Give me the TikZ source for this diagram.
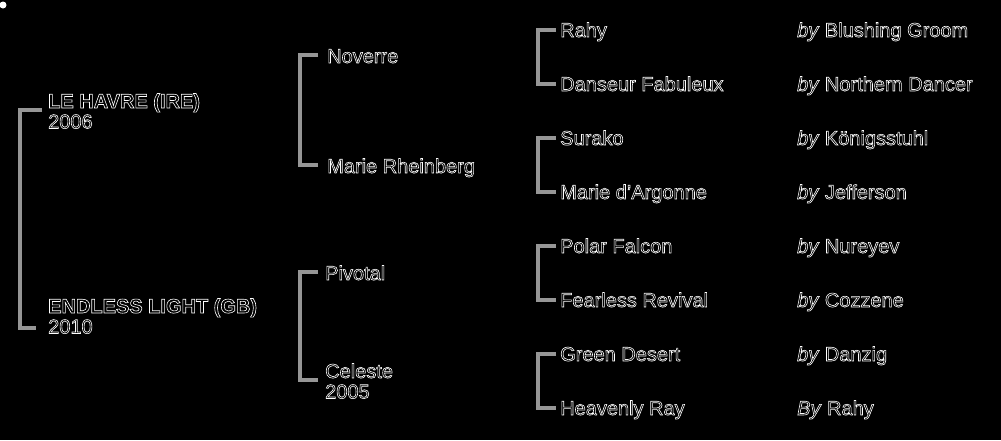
\documentclass[tikz,border=0pt]{standalone}
\usepackage{fontspec}
\setmainfont{Liberation Sans}
\newcommand{\hl}[1]{\special{pdf:literal direct 2 Tr 0.6 w 1 G}#1\special{pdf:literal direct 0 Tr 0 G}}
\definecolor{linegray}{RGB}{150,150,150}
\begin{document}
\begin{tikzpicture}[x=1pt,y=-1pt,
  txt/.style={inner sep=0pt, anchor=base west, font=\fontsize{20}{20.5}\selectfont, text=black, align=left},
  brk/.style={draw=linegray, line width=3.5pt, line join=miter}]
\fill[black] (0,0) rectangle (1001,440);
\useasboundingbox (0,0) rectangle (1001,440);
\fill[white] (3,5) circle (3.5);
% generation 0 (base = baseline of last line)
\node[txt] (lehavre) at (48,128.5) {\hl{\textbf{LE HAVRE (IRE)}}\\\hl{2006}};
\node[txt] (endless) at (48,333.5) {\hl{\textbf{ENDLESS LIGHT (GB)}}\\\hl{2010}};
% generation 1
\node[txt] (noverre) at (327,63) {\hl{Noverre}};
\node[txt] (marier) at (327,173) {\hl{Marie Rheinberg}};
\node[txt] (pivotal) at (325,280) {\hl{Pivotal}};
\node[txt] (celeste) at (325,398.5) {\hl{Celeste}\\\hl{2005}};
% generation 2
\node[txt] (rahy) at (560,37) {\hl{Rahy}};
\node[txt] (danseur) at (560,91) {\hl{Danseur Fabuleux}};
\node[txt] (surako) at (560,145) {\hl{Surako}};
\node[txt] (mariea) at (560,199) {\hl{Marie d'Argonne}};
\node[txt] (polar) at (560,253) {\hl{Polar Falcon}};
\node[txt] (fearless) at (560,307) {\hl{Fearless Revival}};
\node[txt] (green) at (560,361) {\hl{Green Desert}};
\node[txt] (heavenly) at (560,415) {\hl{Heavenly Ray}};
% sires
\node[txt] (s1) at (797,37) {\hl{\textit{by} Blushing Groom}};
\node[txt] (s2) at (797,91) {\hl{\textit{by} Northern Dancer}};
\node[txt] (s3) at (797,145) {\hl{\textit{by} Königsstuhl}};
\node[txt] (s4) at (797,199) {\hl{\textit{by} Jefferson}};
\node[txt] (s5) at (797,253) {\hl{\textit{by} Nureyev}};
\node[txt] (s6) at (797,307) {\hl{\textit{by} Cozzene}};
\node[txt] (s7) at (797,361) {\hl{\textit{by} Danzig}};
\node[txt] (s8) at (797,415) {\hl{\textit{By} Rahy}};
% tick points
\coordinate (lehavreT) at ([xshift=-6pt,yshift=18.5pt]lehavre.base west);
\coordinate (endlessT) at ([xshift=-12pt,yshift=5.5pt]endless.base west);
\coordinate (noverreT) at ([xshift=-9pt,yshift=8pt]noverre.base west);
\coordinate (marierT) at ([xshift=-9pt,yshift=8pt]marier.base west);
\coordinate (pivotalT) at ([xshift=-7pt,yshift=8pt]pivotal.base west);
\coordinate (celesteT) at ([xshift=-7pt,yshift=18.5pt]celeste.base west);
\foreach \n in {rahy,danseur,surako,mariea,polar,fearless,green,heavenly}{
  \coordinate (\n T) at ([xshift=-4pt,yshift=7pt]\n.base west);
}
% brackets
\draw[brk] (lehavreT) -- ++(-22,0) |- (endlessT);
\draw[brk] (noverreT) -- ++(-18,0) |- (marierT);
\draw[brk] (pivotalT) -- ++(-18,0) |- (celesteT);
\draw[brk] (rahyT) -- ++(-18,0) |- (danseurT);
\draw[brk] (surakoT) -- ++(-18,0) |- (marieaT);
\draw[brk] (polarT) -- ++(-18,0) |- (fearlessT);
\draw[brk] (greenT) -- ++(-18,0) |- (heavenlyT);
\end{tikzpicture}
\end{document}
